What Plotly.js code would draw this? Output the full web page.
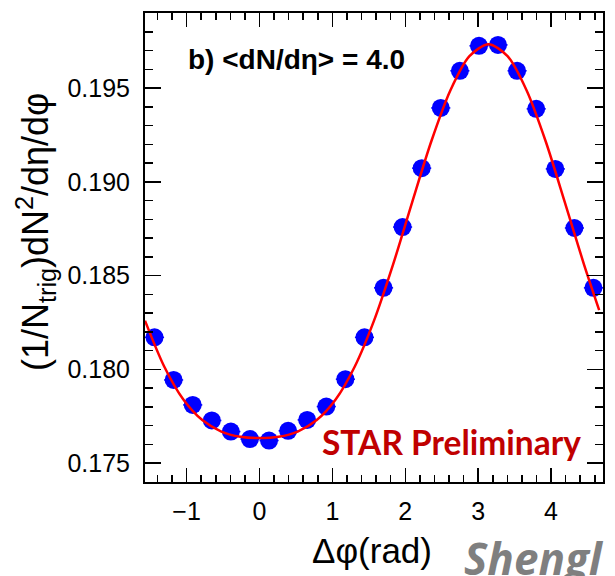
<!DOCTYPE html>
<html>
<head>
<meta charset="utf-8">
<script src="https://cdn.plot.ly/plotly-3.0.1.min.js"></script>
<style>
  html, body { margin: 0; padding: 0; background: #fff; }
  #chart { width: 615px; height: 576px; }
</style>
</head>
<body>
<div id="chart"></div>
<script>
// Data points: bin centres of delta-phi (rad) and per-trigger yields
const dphi = [-1.440, -1.178, -0.916, -0.654, -0.393, -0.131, 0.131, 0.393, 0.654, 0.916, 1.178, 1.440,
              1.702, 1.963, 2.225, 2.487, 2.749, 3.011, 3.272, 3.534, 3.796, 4.058, 4.320, 4.581];
const yieldVals = [0.18171, 0.17944, 0.17811, 0.17728, 0.17669, 0.17629, 0.17621, 0.17673, 0.17731, 0.17802, 0.17948, 0.18171,
                   0.18435, 0.18759, 0.19073, 0.19394, 0.19592, 0.19725, 0.19730, 0.19592, 0.19389, 0.19069, 0.18754, 0.18435];
const binHalfWidth = 0.1309;

// Fit curve (red line)
const fitX = [-1.571, -1.309, -1.047, -0.785, -0.524, -0.262, 0.000, 0.262, 0.524, 0.785, 1.047, 1.309,
              1.571, 1.833, 2.094, 2.356, 2.618, 2.880, 3.142, 3.403, 3.665, 3.927, 4.189, 4.451, 4.660];
const fitY = [0.18260, 0.18017, 0.17841, 0.17730, 0.17669, 0.17641, 0.17634, 0.17641, 0.17669, 0.17730, 0.17841, 0.18017,
              0.18260, 0.18560, 0.18891, 0.19215, 0.19487, 0.19670, 0.19734, 0.19670, 0.19487, 0.19215, 0.18891, 0.18560, 0.18316];

const xTickVals = [-1, 0, 1, 2, 3, 4];
const xTickText = ['\u22121', '0', '1', '2', '3', '4'];
const yTickVals = [0.175, 0.180, 0.185, 0.190, 0.195];
const yTickText = ['0.175', '0.180', '0.185', '0.190', '0.195'];

const helv = 'Liberation Sans, Arial, Helvetica, sans-serif';

const traces = [
  {
    x: dphi, y: yieldVals, type: 'scatter', mode: 'markers',
    marker: { color: '#0000ff', size: 18, symbol: 'circle', line: { width: 0 } },
    error_x: { type: 'constant', value: binHalfWidth, color: '#0000ff', thickness: 1.5, width: 0 },
    showlegend: false, hoverinfo: 'skip'
  },
  {
    x: fitX, y: fitY, type: 'scatter', mode: 'lines',
    line: { color: '#ff0000', width: 2.5, shape: 'spline', smoothing: 0.8 },
    showlegend: false, hoverinfo: 'skip'
  }
];

const axisCommon = {
  showline: true, linecolor: '#000', linewidth: 2, mirror: 'allticks',
  ticks: 'inside', tickcolor: '#000', tickwidth: 1.5,
  showgrid: false, zeroline: false,
  tickfont: { family: helv, size: 25, color: '#000' }
};

const layout = {
  width: 615, height: 576,
  margin: { l: 145, r: 12, t: 13, b: 94 },
  paper_bgcolor: '#fff', plot_bgcolor: '#fff',
  xaxis: Object.assign({}, axisCommon, {
    range: [-1.5708, 4.7124],
    tickmode: 'array', tickvals: xTickVals, ticktext: xTickText,
    ticklen: 14, ticklabelstandoff: 6,
    minor: { dtick: 0.2, ticks: 'inside', ticklen: 7, tickcolor: '#000', tickwidth: 1.5, showgrid: false }
  }),
  yaxis: Object.assign({}, axisCommon, {
    range: [0.174, 0.199],
    tickmode: 'array', tickvals: yTickVals, ticktext: yTickText,
    ticklen: 16, ticklabelstandoff: 8,
    minor: { dtick: 0.001, tick0: 0.175, ticks: 'inside', ticklen: 8, tickcolor: '#000', tickwidth: 1.5, showgrid: false }
  }),
  annotations: [
    {
      text: 'b) &lt;dN/dη&gt; = 4.0', xref: 'paper', yref: 'paper',
      x: (186 - 145) / 458, y: (482 - 60) / 469, xanchor: 'left', yanchor: 'middle',
      showarrow: false, font: { family: helv, size: 28, color: '#000', weight: 'bold' }
    },
    {
      text: 'STAR Preliminary', xref: 'paper', yref: 'paper',
      x: (320 - 145) / 458, y: (482 - 442) / 469, xanchor: 'left', yanchor: 'middle',
      showarrow: false, font: { family: 'Lato, Open Sans, sans-serif', size: 33.5, color: '#c00000', weight: 'bold' }
    },
    {
      text: '(1/N<sub>trig</sub>)dN<sup>2</sup>/dη/dφ', xref: 'paper', yref: 'paper',
      x: (35 - 145) / 458, y: (482 - 232) / 469, xanchor: 'center', yanchor: 'middle',
      textangle: -90, showarrow: false, font: { family: helv, size: 36, color: '#000' }
    },
    {
      text: 'Δφ(rad)', xref: 'paper', yref: 'paper',
      x: (372 - 145) / 458, y: (482 - 550) / 469, xanchor: 'center', yanchor: 'middle',
      showarrow: false, font: { family: helv, size: 35, color: '#000' }
    },
    {
      text: '<i>Shengl</i>', xref: 'paper', yref: 'paper',
      x: (462 - 145) / 458, y: (482 - 558) / 469, xanchor: 'left', yanchor: 'middle',
      showarrow: false, font: { family: 'Open Sans, Lato, sans-serif', size: 44, color: '#7f7f7f', weight: 'bold' }
    }
  ]
};

Plotly.newPlot('chart', traces, layout, { staticPlot: true, displayModeBar: false });
</script>
</body>
</html>
